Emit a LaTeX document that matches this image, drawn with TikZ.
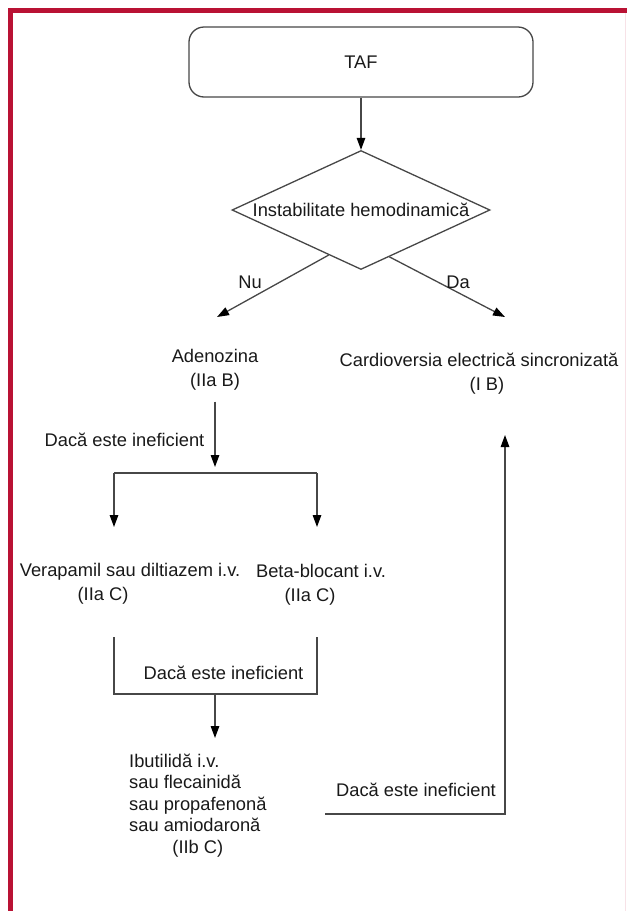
\documentclass[tikz,border=0pt]{standalone}
\usepackage{fontspec}
\setmainfont{Liberation Sans}
\usetikzlibrary{arrows.meta,shapes.geometric,calc}
\definecolor{bordo}{RGB}{185,18,52}

\begin{document}
\begin{tikzpicture}[x=1pt,y=-1pt,
    every node/.style={font=\fontsize{18.3}{24}\selectfont, text=black!90, inner sep=0pt},
    line/.style={draw=black!72, line width=1.3pt},
    arr/.style={line, -{Triangle[length=12pt,width=8.5pt,color=black]}}]
    \useasboundingbox (0,0) rectangle (627,911);

    \draw[bordo, line width=5pt] (10.5,911) -- (10.5,10.5) -- (627,10.5);
    \draw[bordo!12, line width=1pt] (625.5,13) -- (625.5,911);

    \node[line, rounded corners=15pt, minimum width=344pt, minimum height=70pt] (taf) at (361,62) {TAF};
    \node[line, diamond, aspect=2.17, minimum width=258pt, minimum height=119pt] (instab) at (361,210) {Instabilitate hemodinamică};
    \draw[arr] (taf) -- (instab);

    \coordinate (nuEnd) at (217,317);
    \coordinate (daEnd) at (505,317);
    \draw[arr] ($(instab.west)!0.75!(instab.south)$) -- (nuEnd);
    \draw[arr] ($(instab.east)!0.78!(instab.south)$) -- (daEnd);
    \node (nu) at (250,282) {Nu};
    \node (da) at (458,282) {Da};

    \node[align=center] (aden) at (215,370) {Adenozina\\(IIa B)};
    \node[align=center] (card) at (479,374) {Cardioversia electrică sincronizată\\\hspace*{16pt}(I B)};

    % Adenozina ineficienta
    \coordinate (split) at (215,473);
    \coordinate (splitL) at (114,473);
    \coordinate (splitR) at (317,473);
    \coordinate (verapIn) at (114,527);
    \coordinate (betaIn) at (317,527);
    \draw[arr, shorten <=11pt, shorten >=6pt] (aden) -- (split);
    \node (ineff1) at (124.5,440) {Dacă este ineficient};
    \draw[line] (splitL) -- (splitR);
    \draw[arr] (splitL) -- (verapIn);
    \draw[arr] (splitR) -- (betaIn);

    \node[align=center] (verap) at (130,584) {Verapamil sau diltiazem i.v.\\(IIa C)\hspace*{54pt}};
    \node[align=center] (beta) at (321,585) {Beta-blocant i.v.\\(IIa C)\hspace*{22pt}};

    \coordinate (mergeTL) at (114,637);
    \coordinate (mergeBL) at (114,694);
    \coordinate (mergeBR) at (317,694);
    \coordinate (mergeTR) at (317,637);
    \coordinate (merge) at (215,694);
    \coordinate (ibutIn) at (215,738);
    \draw[line] (mergeTL) -- (mergeBL) -- (mergeBR) -- (mergeTR);
    \draw[arr] (merge) -- (ibutIn);
    \node (ineff2) at (223.5,673) {Dacă este ineficient};

    \node[anchor=west, font=\fontsize{18.3}{21.5}\selectfont] (ibut) at (129,806)
        {\begin{tabular}{@{}l@{}}Ibutilidă i.v.\\sau flecainidă\\sau propafenonă\\sau amiodaronă\\\multicolumn{1}{@{}c@{}}{(IIb C)}\end{tabular}};

    % inapoi la cardioversie
    \coordinate (fbStart) at (325,814);
    \coordinate (fbCorner) at (505,814);
    \coordinate (cardIn) at (505,435);
    \draw[arr] (fbStart) -- (fbCorner) -- (cardIn);
    \node (ineff3) at (416,790) {Dacă este ineficient};
\end{tikzpicture}
\end{document}
